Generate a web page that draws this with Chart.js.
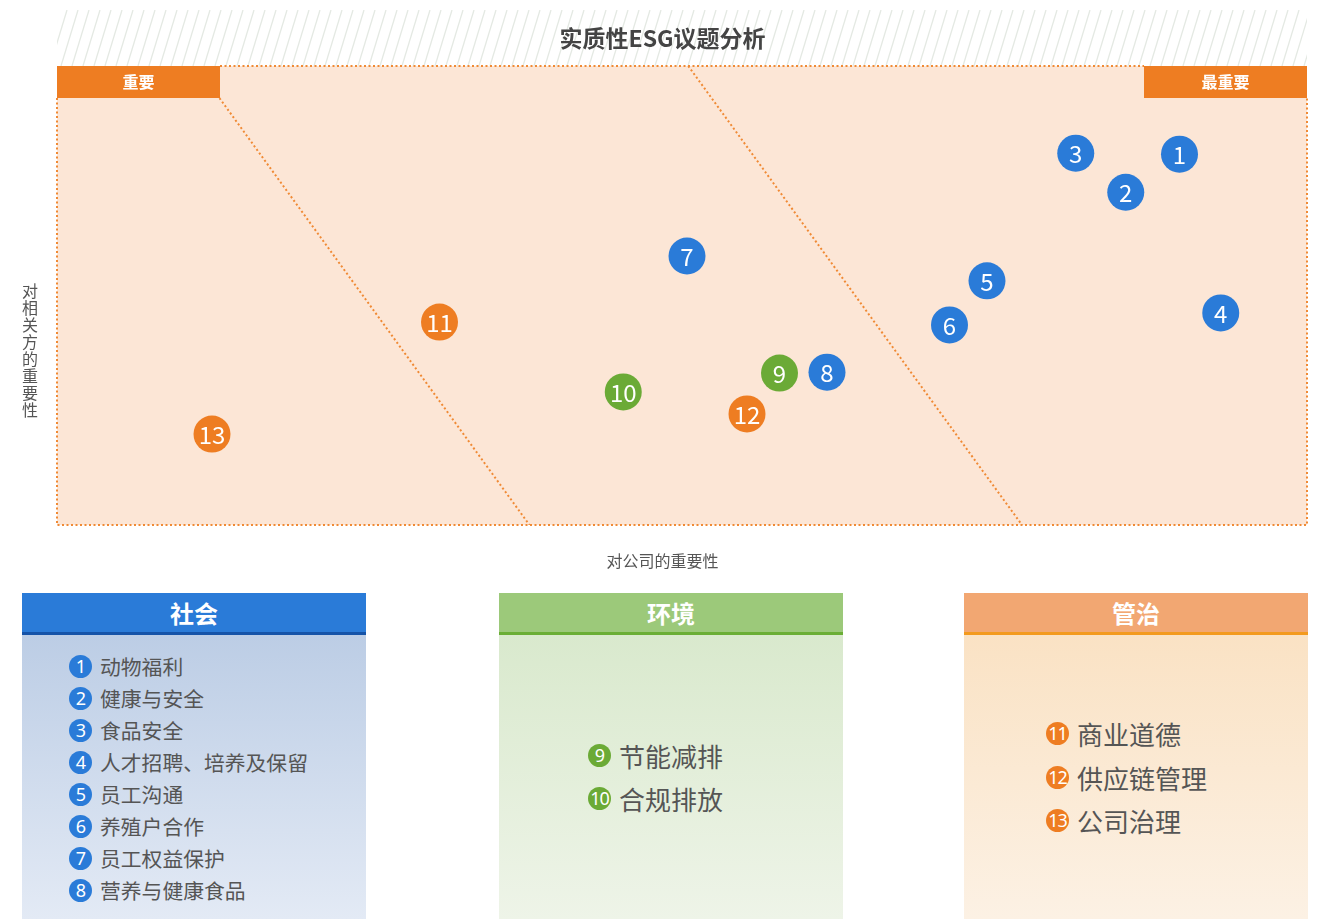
<!DOCTYPE html>
<html>
<head>
<meta charset="utf-8">
<script src="https://cdn.jsdelivr.net/npm/chart.js@4.4.1/dist/chart.umd.min.js"></script>
<style>
  body { margin: 0; background: #fff; font-family: "Noto Sans CJK SC", "Noto Sans", sans-serif; overflow: hidden; }
  #wrap { position: absolute; left: 0; top: 0; width: 1323px; height: 580px; }
  .box { position: absolute; top: 593px; width: 344px; height: 326px; }
  .box .head { height: 39px; line-height: 39px; text-align: center; color: #fff; font-size: 24px; font-weight: bold; border-bottom: 3px solid; }
  .box .body { position: absolute; top: 42px; left: 0; right: 0; bottom: 0; color: #555; }
  .item { white-space: nowrap; display: flex; align-items: center; }
  .num { display: inline-block; width: 23px; height: 23px; border-radius: 50%; color: #fff; text-align: center; line-height: 23px; font-size: 18px; font-family: "Noto Sans", sans-serif; margin-right: 8px; letter-spacing: -1px; flex: none; }
  #social { left: 22px; }
  #social .head { background: #2a7bd8; border-color: #1553a8; }
  #social .body { background: linear-gradient(#bccde5, #e3eaf5); padding: 15px 0 0 47px; box-sizing: border-box; font-size: 20.8px; }
  #social .item { height: 32px; }
  #social .num { background: #2a7bd8; }
  #env { left: 499px; }
  #env .head { background: #9cc97a; border-color: #6aae35; }
  #env .body { background: linear-gradient(#d9e9cd, #eef4e8); display: flex; flex-direction: column; justify-content: center; padding-left: 89px; font-size: 26px; }
  #env .item { height: 43px; }
  #env .num { background: #6baa36; }
  #gov { left: 964px; }
  #gov .head { background: #f2a772; border-color: #f39a1e; }
  #gov .body { background: linear-gradient(#fae2c4, #fcf1e4); display: flex; flex-direction: column; justify-content: center; padding-left: 82px; font-size: 26px; }
  #gov .item { height: 43.5px; }
  #gov .num { background: #ee7d22; }
</style>
</head>
<body>
<div id="wrap"><canvas id="matrix"></canvas></div>
<div class="box" id="social"><div class="head">社会</div><div class="body"></div></div>
<div class="box" id="env"><div class="head">环境</div><div class="body"></div></div>
<div class="box" id="gov"><div class="head">管治</div><div class="body"></div></div>
<script>
// 议题编号和名称
const issueIds = [1, 2, 3, 4, 5, 6, 7, 8, 9, 10, 11, 12, 13];
const issueNames = ['动物福利', '健康与安全', '食品安全', '人才招聘、培养及保留', '员工沟通', '养殖户合作',
  '员工权益保护', '营养与健康食品', '节能减排', '合规排放', '商业道德', '供应链管理', '公司治理'];
const issueGroups = ['social', 'social', 'social', 'social', 'social', 'social', 'social', 'social',
  'env', 'env', 'gov', 'gov', 'gov'];

// 对公司的重要性 (x) / 对相关方的重要性 (y), 0-100
const companyImportance = [89.8, 85.5, 81.5, 93.1, 74.4, 71.4, 50.4, 61.6, 57.8, 45.3, 30.6, 55.2, 12.4];
const stakeholderImportance = [80.8, 72.5, 81.0, 46.2, 53.2, 43.6, 58.6, 33.3, 33.1, 29.0, 44.2, 24.2, 19.8];

// 分区虚线
const dividerAX = [13.0, 37.8];
const dividerAY = [93.0, 0];
const dividerBX = [50.5, 77.2];
const dividerBY = [100, 0];

const groupNames = { social: '社会', env: '环境', gov: '管治' };
const groupColors = { social: '#2a7bd8', env: '#6baa36', gov: '#ee7d22' };

const TITLE = '实质性ESG议题分析';
const X_TITLE = '对公司的重要性';
const Y_TITLE = '对相关方的重要性';
const TAG_LEFT = '重要';
const TAG_RIGHT = '最重要';

const CJK = '"Noto Sans CJK SC", "Noto Sans", sans-serif';
const ORANGE = '#ee7d22';
const DOT = '#f08a35';

function groupPoints(g) {
  const pts = [];
  issueIds.forEach((id, i) => {
    if (issueGroups[i] === g) pts.push({ x: companyImportance[i], y: stakeholderImportance[i], id: id });
  });
  return pts;
}

function dividerPoints(xs, ys) {
  return xs.map((x, i) => ({ x: x, y: ys[i] }));
}

// 背景、标题、标签等
const decorPlugin = {
  id: 'decor',
  beforeDraw(chart) {
    const ctx = chart.ctx;
    const a = chart.chartArea;
    const midX = chart.width / 2 + 1;
    ctx.save();
    // 斜线标题带
    ctx.beginPath();
    ctx.rect(a.left, 10, a.right - a.left, a.top - 10);
    ctx.clip();
    ctx.strokeStyle = '#e4e9e3';
    ctx.lineWidth = 1.3;
    for (let x = a.left - 40; x < a.right + 40; x += 11) {
      ctx.beginPath();
      ctx.moveTo(x, a.top);
      ctx.lineTo(x + 17, 10);
      ctx.stroke();
    }
    ctx.restore();

    ctx.save();
    ctx.fillStyle = '#444';
    ctx.font = 'bold 23px ' + CJK;
    ctx.textAlign = 'center';
    ctx.textBaseline = 'middle';
    ctx.fillText(TITLE, midX, 38);

    // 绘图区背景
    ctx.fillStyle = '#fce6d6';
    ctx.fillRect(a.left, a.top, a.right - a.left, a.bottom - a.top);

    // 顶部标签
    const tagW = 163, tagH = 32;
    ctx.fillStyle = ORANGE;
    ctx.fillRect(a.left, a.top, tagW, tagH);
    ctx.fillRect(a.right - tagW, a.top, tagW, tagH);
    ctx.fillStyle = '#fff';
    ctx.font = 'bold 16px ' + CJK;
    ctx.fillText(TAG_LEFT, a.left + tagW / 2, a.top + tagH / 2);
    ctx.fillText(TAG_RIGHT, a.right - tagW / 2, a.top + tagH / 2);

    // 点状边框
    ctx.strokeStyle = DOT;
    ctx.lineWidth = 2;
    ctx.setLineDash([2, 2.5]);
    ctx.beginPath();
    ctx.moveTo(a.left + tagW, a.top);
    ctx.lineTo(a.right - tagW, a.top);
    ctx.moveTo(a.left, a.top + tagH);
    ctx.lineTo(a.left, a.bottom);
    ctx.lineTo(a.right, a.bottom);
    ctx.lineTo(a.right, a.top + tagH);
    ctx.stroke();
    ctx.setLineDash([]);

    // 坐标轴标题
    ctx.fillStyle = '#555';
    ctx.font = '16px ' + CJK;
    ctx.fillText(X_TITLE, midX, 561);
    const chars = Array.from(Y_TITLE);
    chars.forEach((c, i) => ctx.fillText(c, 30, 291 + i * 17));
    ctx.restore();
  },
  afterDatasetsDraw(chart) {
    const ctx = chart.ctx;
    ctx.save();
    ctx.fillStyle = '#fff';
    ctx.font = '24px ' + CJK;
    ctx.textAlign = 'center';
    ctx.textBaseline = 'middle';
    chart.data.datasets.forEach((ds, di) => {
      if (!ds.isIssue) return;
      chart.getDatasetMeta(di).data.forEach((el, j) => {
        ctx.fillText(String(ds.data[j].id), el.x, el.y + 1);
      });
    });
    ctx.restore();
  }
};

const issueSets = ['social', 'env', 'gov'].map(g => ({
  label: groupNames[g],
  isIssue: true,
  data: groupPoints(g),
  backgroundColor: groupColors[g],
  borderWidth: 0,
  pointRadius: 18.5,
  pointHoverRadius: 18.5
}));

const dividerStyle = {
  showLine: true,
  borderColor: DOT,
  borderWidth: 2,
  borderDash: [2, 2.5],
  pointRadius: 0,
  fill: false
};

new Chart(document.getElementById('matrix'), {
  type: 'scatter',
  data: {
    datasets: issueSets.concat([
      Object.assign({ label: 'A', data: dividerPoints(dividerAX, dividerAY) }, dividerStyle),
      Object.assign({ label: 'B', data: dividerPoints(dividerBX, dividerBY) }, dividerStyle)
    ])
  },
  options: {
    responsive: true,
    maintainAspectRatio: false,
    animation: false,
    layout: { autoPadding: false, padding: { left: 57, top: 66, right: 16, bottom: 55 } },
    scales: {
      x: { type: 'linear', min: 0, max: 100, display: false },
      y: { type: 'linear', min: 0, max: 100, display: false }
    },
    plugins: {
      legend: { display: false },
      tooltip: { enabled: false },
      title: { display: false }
    }
  },
  plugins: [decorPlugin]
});

// 下方图例
function fillLegend(boxId, group) {
  const body = document.querySelector('#' + boxId + ' .body');
  issueIds.forEach((id, i) => {
    if (issueGroups[i] !== group) return;
    const row = document.createElement('div');
    row.className = 'item';
    row.innerHTML = '<span class="num">' + id + '</span><span>' + issueNames[i] + '</span>';
    body.appendChild(row);
  });
}
fillLegend('social', 'social');
fillLegend('env', 'env');
fillLegend('gov', 'gov');
</script>
</body>
</html>
